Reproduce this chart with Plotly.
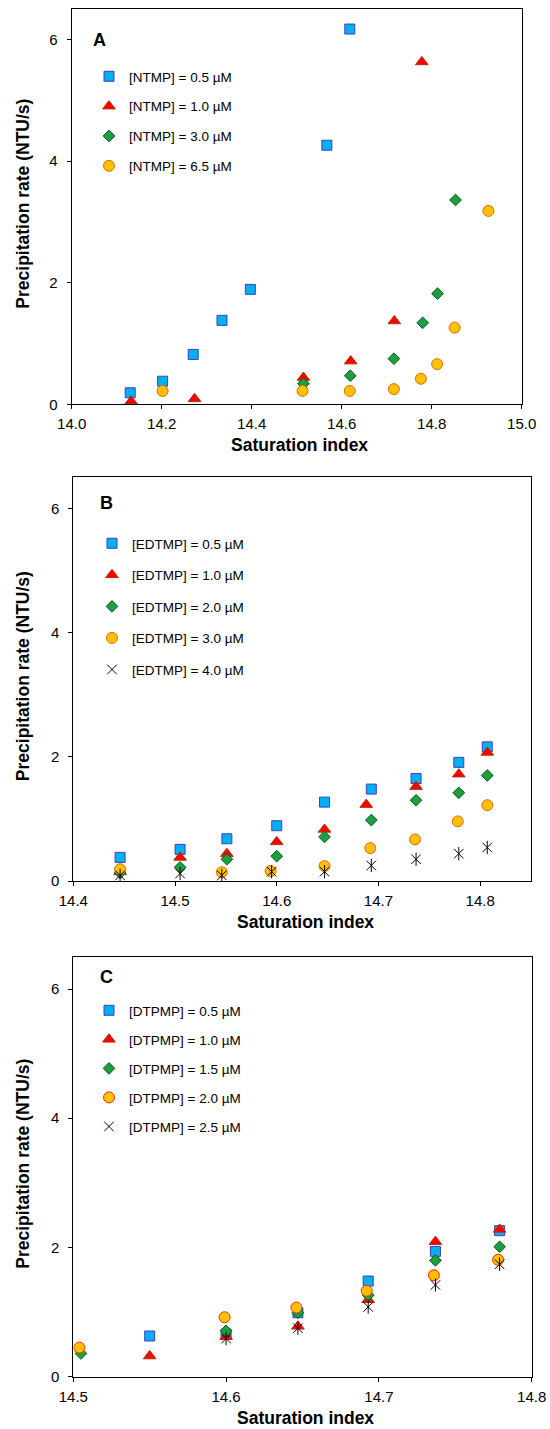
import plotly.graph_objects as go

# ---------------- Data ----------------
# Panel A (NTMP)
ntmp05_x = [14.130, 14.202, 14.270, 14.334, 14.397, 14.567, 14.618]
ntmp05_y = [0.19, 0.38, 0.82, 1.38, 1.89, 4.26, 6.17]
ntmp10_x = [14.132, 14.273, 14.515, 14.620, 14.717, 14.778]
ntmp10_y = [0.05, 0.09, 0.44, 0.71, 1.37, 5.63]
ntmp30_x = [14.515, 14.619, 14.716, 14.780, 14.813, 14.853]
ntmp30_y = [0.34, 0.47, 0.75, 1.34, 1.82, 3.36]
ntmp65_x = [14.202, 14.513, 14.618, 14.716, 14.776, 14.812, 14.851, 14.926]
ntmp65_y = [0.22, 0.22, 0.22, 0.25, 0.42, 0.66, 1.26, 3.18]

# Panel B (EDTMP)
edtmp05_x = [14.446, 14.505, 14.551, 14.600, 14.647, 14.693, 14.737, 14.779, 14.807]
edtmp05_y = [0.38, 0.51, 0.68, 0.89, 1.27, 1.48, 1.65, 1.91, 2.16]
edtmp10_x = [14.446, 14.505, 14.551, 14.600, 14.647, 14.688, 14.737, 14.779, 14.807]
edtmp10_y = [0.15, 0.38, 0.44, 0.63, 0.83, 1.23, 1.52, 1.72, 2.07]
edtmp20_x = [14.446, 14.505, 14.551, 14.600, 14.647, 14.693, 14.737, 14.779, 14.807]
edtmp20_y = [0.13, 0.22, 0.35, 0.40, 0.71, 0.98, 1.30, 1.42, 1.70]
edtmp30_x = [14.446, 14.546, 14.594, 14.647, 14.692, 14.736, 14.778, 14.807]
edtmp30_y = [0.19, 0.14, 0.16, 0.24, 0.53, 0.67, 0.96, 1.22]
edtmp40_x = [14.446, 14.505, 14.546, 14.595, 14.647, 14.693, 14.737, 14.779, 14.807]
edtmp40_y = [0.09, 0.12, 0.09, 0.15, 0.15, 0.25, 0.35, 0.44, 0.54]

# Panel C (DTPMP)
dtpmp05_x = [14.550, 14.600, 14.647, 14.693, 14.737, 14.779]
dtpmp05_y = [0.63, 0.66, 0.99, 1.48, 1.94, 2.26]
dtpmp10_x = [14.550, 14.600, 14.647, 14.693, 14.737, 14.779]
dtpmp10_y = [0.32, 0.62, 0.78, 1.19, 2.09, 2.28]
dtpmp15_x = [14.505, 14.600, 14.647, 14.693, 14.737, 14.779]
dtpmp15_y = [0.36, 0.71, 0.99, 1.26, 1.80, 2.01]
dtpmp20_x = [14.504, 14.599, 14.646, 14.692, 14.736, 14.778]
dtpmp20_y = [0.45, 0.92, 1.07, 1.33, 1.57, 1.81]
dtpmp25_x = [14.600, 14.647, 14.693, 14.737, 14.779]
dtpmp25_y = [0.59, 0.75, 1.08, 1.42, 1.74]

labels_a = ["[NTMP] = 0.5 µM", "[NTMP] = 1.0 µM", "[NTMP] = 3.0 µM", "[NTMP] = 6.5 µM"]
labels_b = ["[EDTMP] = 0.5 µM", "[EDTMP] = 1.0 µM", "[EDTMP] = 2.0 µM",
            "[EDTMP] = 3.0 µM", "[EDTMP] = 4.0 µM"]
labels_c = ["[DTPMP] = 0.5 µM", "[DTPMP] = 1.0 µM", "[DTPMP] = 1.5 µM",
            "[DTPMP] = 2.0 µM", "[DTPMP] = 2.5 µM"]

x_ticks_a = [14.0, 14.2, 14.4, 14.6, 14.8, 15.0]
x_ticks_b = [14.4, 14.5, 14.6, 14.7, 14.8]
x_ticks_c = [14.5, 14.6, 14.7, 14.8]
y_ticks = [0, 2, 4, 6]

# ---------------- Styles ----------------
FONT = "Liberation Sans, Arial, Helvetica, sans-serif"
W, H = 550, 1429

STY = {
    "square": dict(symbol="square", size=10, color="#00B0F0", line=dict(color="#3F3FBF", width=1)),
    "triangle": dict(symbol="triangle-up", size=11, color="#FF0000", line=dict(color="#B03000", width=1)),
    "diamond": dict(symbol="diamond", size=9, color="#1E9E3E", line=dict(color="#0B5A1E", width=1)),
    "circle": dict(symbol="circle", size=11, color="#FFC000", line=dict(color="#E46C0A", width=1)),
    "circle_c": dict(symbol="circle", size=11, color="#FFC000", line=dict(color="#FF2A00", width=1)),
}

fig = go.Figure()

def add(x, y, name, sty, ax, legend, group):
    fig.add_trace(go.Scatter(
        x=x, y=y, mode="markers", name=name, marker=STY[sty],
        xaxis="x" + ax, yaxis="y" + ax, legend=legend, legendgroup=group,
        showlegend=True))

def add_star(x, y, name, ax, legend, group):
    fig.add_trace(go.Scatter(
        x=x, y=y, mode="markers", name=name,
        marker=dict(symbol="x-thin-open", size=9.5, color="black", line=dict(color="black", width=1)),
        xaxis="x" + ax, yaxis="y" + ax, legend=legend, legendgroup=group, showlegend=True))
    fig.add_trace(go.Scatter(
        x=x, y=y, mode="markers", name=name,
        marker=dict(symbol="line-ns-open", size=9.5, color="black", line=dict(color="black", width=1)),
        xaxis="x" + ax, yaxis="y" + ax, legend=legend, legendgroup=group, showlegend=False))

# Panel A
add(ntmp05_x, ntmp05_y, labels_a[0], "square", "", "legend", "a1")
add(ntmp10_x, ntmp10_y, labels_a[1], "triangle", "", "legend", "a2")
add(ntmp30_x, ntmp30_y, labels_a[2], "diamond", "", "legend", "a3")
add(ntmp65_x, ntmp65_y, labels_a[3], "circle", "", "legend", "a4")
# Panel B
add(edtmp05_x, edtmp05_y, labels_b[0], "square", "2", "legend2", "b1")
add(edtmp10_x, edtmp10_y, labels_b[1], "triangle", "2", "legend2", "b2")
add(edtmp20_x, edtmp20_y, labels_b[2], "diamond", "2", "legend2", "b3")
add(edtmp30_x, edtmp30_y, labels_b[3], "circle", "2", "legend2", "b4")
add_star(edtmp40_x, edtmp40_y, labels_b[4], "2", "legend2", "b5")
# Panel C
add(dtpmp05_x, dtpmp05_y, labels_c[0], "square", "3", "legend3", "c1")
add(dtpmp10_x, dtpmp10_y, labels_c[1], "triangle", "3", "legend3", "c2")
add(dtpmp15_x, dtpmp15_y, labels_c[2], "diamond", "3", "legend3", "c3")
add(dtpmp20_x, dtpmp20_y, labels_c[3], "circle_c", "3", "legend3", "c4")
add_star(dtpmp25_x, dtpmp25_y, labels_c[4], "3", "legend3", "c5")

# ---------------- Layout ----------------
def px_x(p):
    return p / W

def px_y(p):
    return 1 - p / H

panels = {
    "": dict(l=71.7, r=521.7, t=9.0, b=404.3, xr=[14.0, 15.0], xt=x_ticks_a),
    "2": dict(l=73.3, r=531.0, t=477.3, b=881.0, xr=[14.4, 14.85], xt=x_ticks_b),
    "3": dict(l=73.3, r=531.7, t=956.7, b=1376.7, xr=[14.5, 14.8], xt=x_ticks_c),
}

axis_common = dict(showline=True, linecolor="black", linewidth=1, mirror=True,
                   ticks="outside", ticklen=4, tickcolor="black", tickwidth=1,
                   showgrid=False, zeroline=False, automargin=False,
                   tickfont=dict(family=FONT, size=15, color="black"))

layout = dict(width=W, height=H, margin=dict(l=0, r=0, t=0, b=0),
              paper_bgcolor="white", plot_bgcolor="white",
              font=dict(family=FONT, color="black"), annotations=[])

for key, p in panels.items():
    layout["xaxis" + key] = dict(
        domain=[px_x(p["l"]), px_x(p["r"])], range=p["xr"],
        tickvals=p["xt"], tickformat=".1f", anchor="y" + key,
        ticklabelstandoff=2, **axis_common)
    layout["yaxis" + key] = dict(
        domain=[px_y(p["b"]), px_y(p["t"])], range=[0, 6.5],
        tickvals=y_ticks, anchor="x" + key, ticklabelstandoff=6, **axis_common)
    # axis titles
    layout["annotations"].append(dict(
        text="<b>Saturation index</b>", xref="paper", yref="paper",
        x=px_x((p["l"] + p["r"]) / 2 + 3), y=px_y(p["b"] + 41),
        showarrow=False, xanchor="center", yanchor="middle",
        font=dict(family=FONT, size=17.5, color="black")))
    layout["annotations"].append(dict(
        text="<b>Precipitation rate (NTU/s)</b>", xref="paper", yref="paper",
        x=px_x(23), y=px_y((p["t"] + p["b"]) / 2 - 3), textangle=-90,
        showarrow=False, xanchor="center", yanchor="middle",
        font=dict(family=FONT, size=17.5, color="black")))

panel_labels = [("A", 99.3, 39.7), ("B", 106.7, 503.3), ("C", 106.7, 977.3)]
for txt, lx, ly in panel_labels:
    layout["annotations"].append(dict(
        text="<b>%s</b>" % txt, xref="paper", yref="paper", x=px_x(lx), y=px_y(ly),
        showarrow=False, xanchor="center", yanchor="middle",
        font=dict(family=FONT, size=18, color="black")))

legend_common = dict(bgcolor="rgba(0,0,0,0)", borderwidth=0, traceorder="grouped",
                     font=dict(family=FONT, size=13.5, color="black"),
                     xanchor="left", yanchor="top", itemclick=False, itemdoubleclick=False)
layout["legend"] = dict(x=px_x(89), y=px_y(61), tracegroupgap=9.3, **legend_common)
layout["legend2"] = dict(x=px_x(92), y=px_y(528), tracegroupgap=11, **legend_common)
layout["legend3"] = dict(x=px_x(89), y=px_y(995), tracegroupgap=8.5, **legend_common)

fig.update_layout(**layout)
fig.write_html("out.html")
